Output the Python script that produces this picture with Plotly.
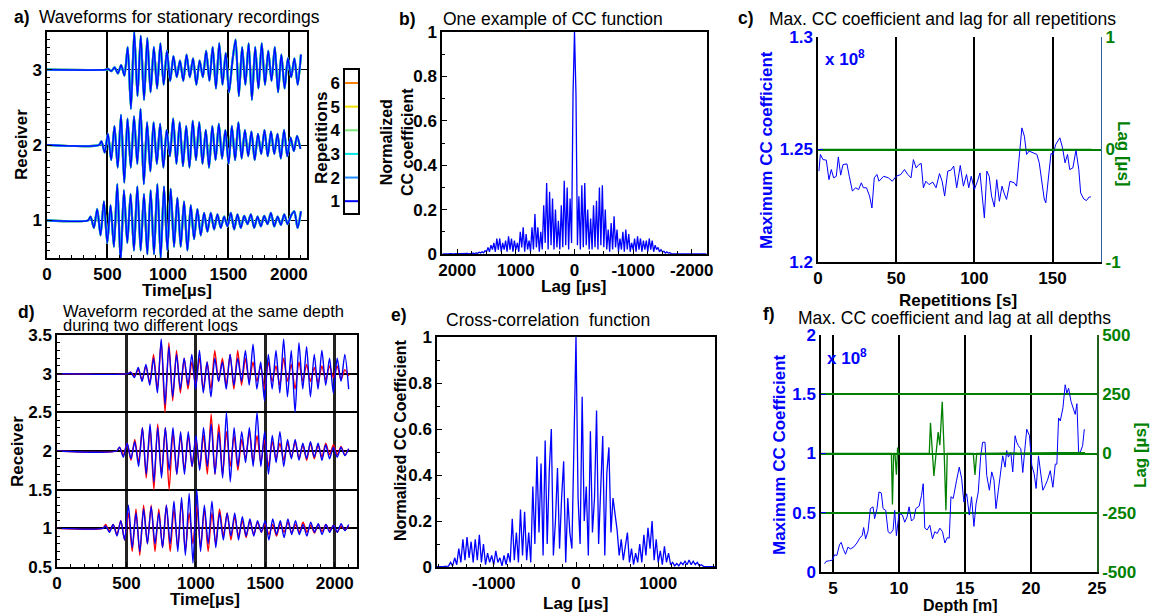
import numpy as np
import plotly.graph_objects as go

# ---------------- DATA ----------------
# Panel a: stationary recordings (amplitude of successive half-cycles after onset)
a_receivers = [1, 2, 3]
a_onset_us = [360, 450, 505]
a_end_us = [2100, 2095, 2100]
a_r1 = [0.05, -0.1, 0.15, -0.2, 0.25, -0.3, 0.2, -0.35,
        0.48, -0.55, 0.4, -0.3, 0.35, -0.4, 0.45, -0.4, 0.35, -0.45, 0.4, -0.45, 0.48, -0.5, 0.45, -0.4, 0.42, -0.35,
        0.3, -0.35, 0.25, -0.4, 0.2, -0.25, 0.15, -0.2, 0.1,
        -0.15, 0.1, -0.12, 0.08, -0.1, 0.05, -0.08, 0.1, -0.12, 0.08, -0.1, 0.06, -0.05, 0.08, -0.1, 0.05, -0.08,
        0.06, -0.05, 0.1, -0.08, 0.05, -0.06, 0.08, -0.05, 0.06, 0.12, -0.1, 0.12]
a_r2 = [0.05, -0.1, 0.15, -0.2, 0.25, -0.3,
        0.4, -0.5, 0.35, -0.3, 0.38, -0.25, 0.48, -0.52, 0.3, -0.35,
        0.3, -0.25, 0.28, -0.3, 0.2, -0.15,
        0.35, -0.25, 0.3, -0.28, 0.25, -0.3, 0.32, -0.2, 0.3, -0.25, 0.2, -0.3, 0.25, -0.2, 0.28, -0.18, 0.2, -0.25,
        0.25, -0.2, 0.3, -0.18, 0.2, -0.15, 0.18, -0.2, 0.15, -0.12, 0.2, -0.15, 0.18, -0.12, 0.15, -0.18, 0.2, -0.15,
        0.1, -0.08, 0.12, -0.05]
a_r3 = [0.01, -0.02, 0.03, -0.05, 0.06, -0.08,
        0.3, -0.52, 0.5, -0.35, 0.45, -0.4, 0.42, -0.3,
        0.3, -0.25, 0.35, -0.2, 0.25, -0.15,
        0.18, -0.1, 0.12, -0.15, 0.2, -0.1, 0.15, -0.2, 0.12, -0.1, 0.25,
        -0.15, 0.3, -0.25, 0.35, -0.2, 0.22, -0.3, 0.1,
        0.4, -0.35, 0.3, -0.2, 0.35, -0.4, 0.3, -0.25, 0.35, -0.2, 0.25,
        -0.15, 0.3, -0.3, 0.2, -0.25, 0.15, -0.1, 0.15, -0.2, 0.2]
a_traces = [a_r1, a_r2, a_r3]
rep_labels = [1, 2, 3, 4, 5, 6]
rep_colors = ["#0000FF", "#1E8CFF", "#00E5E5", "#7CE67C", "#F0E000", "#FF7F00"]

# Panel b: one example of CC function (lag grid step 25 us)
b_step_us = 25
b_pos = [1.0, 0.72, 0.05, 0.25, 0.02, 0.3, 0.04, 0.33, 0.03, 0.22,
         0.02, 0.15, 0.03, 0.2, 0.02, 0.25, 0.04, 0.28, 0.02, 0.32,
         0.05, 0.22, 0.02, 0.1, 0.01, 0.12, 0.03, 0.18, 0.02, 0.12,
         0.01, 0.06, 0.02, 0.09, 0.01, 0.12, 0.03, 0.1, 0.01, 0.05,
         0.02, 0.06, 0.01, 0.07, 0.02, 0.08, 0.01, 0.06, 0.02, 0.05,
         0.01, 0.07, 0.02, 0.07, 0.01, 0.05, 0.02, 0.04, 0.01, 0.03,
         0.01, 0.015, 0.005, 0.01, 0.005, 0.008, 0.003, 0.005, 0.002, 0.004,
         0.002, 0.003, 0.001, 0.003, 0.002, 0.003, 0.001, 0.002, 0.002, 0.003,
         0.001, 0.002, 0.001, 0.002, 0.001, 0.002, 0.001, 0.002, 0.001, 0.001, 0.001]
b_neg = [0.72, 0.04, 0.26, 0.02, 0.31, 0.03, 0.32, 0.04, 0.2, 0.02,
         0.16, 0.02, 0.22, 0.03, 0.24, 0.02, 0.3, 0.04, 0.31, 0.03,
         0.2, 0.02, 0.11, 0.01, 0.14, 0.02, 0.17, 0.03, 0.11, 0.01,
         0.07, 0.02, 0.1, 0.01, 0.11, 0.02, 0.09, 0.01, 0.05, 0.02,
         0.07, 0.01, 0.08, 0.02, 0.07, 0.01, 0.06, 0.02, 0.06, 0.01,
         0.07, 0.02, 0.06, 0.01, 0.04, 0.02, 0.03, 0.01, 0.02, 0.01,
         0.012, 0.004, 0.01, 0.004, 0.006, 0.002, 0.004, 0.002, 0.003, 0.002,
         0.003, 0.001, 0.002, 0.002, 0.003, 0.001, 0.002, 0.001, 0.002, 0.001,
         0.002, 0.001, 0.002, 0.001, 0.002, 0.001, 0.001, 0.001, 0.001, 0.001]
b_ticks = [2000, 1000, 0, -1000, -2000]
b_ticktext = ["2000", "1000", "0", "-1000", "-2000"]

# Panel c: max CC coefficient (x1e8) and lag for all repetitions
c_reps = [0.6, 1.5, 3.2, 5.3, 7, 8.5, 10, 11.7, 13, 14.5, 16, 18.5, 20, 22, 24, 26, 27.7, 29, 31, 33, 34.5, 36,
          37.7, 39, 42, 45, 47.5, 50, 53, 55.3, 57.4, 59.5, 61, 62.8, 64.5, 66, 67.4, 69, 71, 73.4, 75.5, 77.7,
          79.4, 81, 83, 85, 86.8, 88.7, 91, 93, 95, 96.4, 98, 100, 102, 103.6, 106.4, 108, 109.5, 111, 112.8,
          114.3, 116, 117.7, 119, 120.6, 122.8, 125.5, 127, 128.7, 130.4, 132, 133.4, 135, 137.7, 140, 141.5,
          143.2, 144.7, 145.7, 147.4, 149, 150.4, 152, 154.7, 156.4, 158, 159.6, 161, 163, 165, 166.8, 168,
          170, 171.7, 173.4, 174.5]
c_maxcc = [1.2404, 1.2478, 1.2455, 1.2453, 1.2366, 1.2411, 1.2374, 1.2381, 1.2467, 1.2386, 1.2433, 1.2436,
           1.2381, 1.2315, 1.233, 1.2322, 1.2352, 1.233, 1.233, 1.2293, 1.224, 1.2374, 1.2389, 1.2359, 1.2381,
           1.2374, 1.2359, 1.2381, 1.2389, 1.2411, 1.2389, 1.2374, 1.2455, 1.2418, 1.2433, 1.2438, 1.233,
           1.2359, 1.2344, 1.2355, 1.233, 1.2393, 1.2359, 1.2293, 1.2404, 1.2408, 1.2426, 1.233, 1.2429,
           1.2337, 1.2389, 1.233, 1.2381, 1.2322, 1.2359, 1.2396, 1.2196, 1.2404, 1.2381, 1.2293, 1.2245,
           1.2366, 1.227, 1.2337, 1.2307, 1.2278, 1.2359, 1.2352, 1.2337, 1.2455, 1.2596, 1.2559, 1.2478,
           1.2493, 1.2485, 1.2478, 1.2441, 1.2366, 1.228, 1.2263, 1.2381, 1.2482, 1.2478, 1.2522, 1.2552,
           1.2507, 1.2441, 1.2478, 1.2411, 1.2418, 1.2497, 1.2411, 1.2307, 1.228, 1.2273, 1.2289, 1.2289]
c_lag_reps = [1, 175]
c_lag_us = [0, 0]

# Panel d: same depth, two logs
d_onset_us = [350, 450, 530]
d_end_us = [2100, 2100, 2100]
d_blue = [
    [0.03, -0.05, 0.05, -0.1, 0.1, -0.15,
     0.3, -0.25, 0.2, -0.3, 0.25, -0.2, 0.28, -0.2, 0.2, -0.25, 0.3, -0.2, 0.35, -0.3, 0.4, -0.35, 0.45, -0.45,
     0.5, -0.3, 0.3, -0.2, 0.35, -0.25, 0.2, -0.15, 0.2, -0.1, 0.2, -0.15, 0.15, -0.1, 0.12, -0.1,
     0.1, -0.05, 0.1, -0.15, 0.12, -0.08, 0.1, -0.12, 0.12, -0.08, 0.1, -0.08, 0.05, -0.1, 0.08, -0.05, 0.06,
     -0.08, 0.05, -0.05, 0.04, -0.05, 0.06, -0.03, 0.05],
    [0.05, -0.08, 0.1, -0.1, 0.12, -0.2, 0.3, -0.3,
     0.35, -0.4, 0.3, -0.35, 0.3, -0.25, 0.3, -0.3, 0.25, -0.3, 0.25, -0.2, 0.2, -0.25,
     0.3, -0.2, 0.35, -0.3, 0.25, -0.35, 0.5, -0.4, 0.3, -0.2, 0.25, -0.15, 0.3, -0.2, 0.5, -0.2,
     0.25, -0.3, 0.2, -0.15, 0.25, -0.2, 0.15, -0.1, 0.15, -0.12, 0.1, -0.1, 0.12, -0.08, 0.1, -0.12, 0.08,
     -0.1, 0.05, -0.08, 0.05, -0.06, 0.03],
    [0.02, -0.05, 0.08, -0.1, 0.12, -0.15, 0.2, -0.25,
     0.45, -0.4, 0.35, -0.3, 0.25, -0.2, 0.2, -0.15, 0.25, -0.2, 0.3, -0.25, 0.15, -0.3,
     0.2, -0.1, 0.15, -0.2, 0.25, -0.15, 0.2, -0.1, 0.3, -0.15, 0.38, -0.2, 0.15, -0.35,
     0.25, -0.2, 0.3, -0.25, 0.45, -0.3, 0.3, -0.5, 0.4, -0.2, 0.35, -0.3, 0.25, -0.2, 0.3, -0.15, 0.2, -0.25,
     0.2, -0.1, 0.25, -0.2]]
d_red = [
    [0.05, -0.03, 0.05, -0.08, 0.1, -0.15,
     0.2, -0.3, 0.25, -0.35, 0.3, -0.2, 0.3, -0.3, 0.25, -0.25, 0.3, -0.3, 0.25, -0.25, 0.35, -0.3, 0.2, -0.2,
     0.3, -0.25, 0.25, -0.3, 0.2, -0.2, 0.25, -0.1, 0.2, -0.15, 0.15, -0.1, 0.1, -0.12, 0.1, -0.08,
     0.08, -0.05, 0.06, -0.08, 0.05, -0.1, 0.06, -0.05, 0.08, -0.06, 0.05, -0.05, 0.08, -0.05, 0.04, -0.06,
     0.05, -0.04, 0.05, -0.03, 0.04, -0.05, 0.03, -0.02, 0.03],
    [0.05, -0.05, 0.1, -0.12, 0.15, -0.15, 0.3, -0.35,
     0.3, -0.5, 0.35, -0.3, 0.3, -0.5, 0.25, -0.3, 0.2, -0.25, 0.2, -0.2, 0.15, -0.2,
     0.2, -0.3, 0.48, -0.3, 0.35, -0.3, 0.25, -0.2, 0.2, -0.25, 0.15, -0.1, 0.25, -0.15, 0.2, -0.15,
     0.15, -0.2, 0.12, -0.1, 0.1, -0.12, 0.1, -0.08, 0.12, -0.1, 0.08, -0.12, 0.1, -0.1, 0.08, -0.08, 0.1,
     -0.05, 0.08, -0.05, 0.06, -0.05, 0.03],
    [0.02, -0.03, 0.05, -0.08, 0.1, -0.12, 0.25, -0.2,
     0.42, -0.5, 0.4, -0.35, 0.3, -0.25, 0.2, -0.2, 0.15, -0.15, 0.2, -0.2, 0.15, -0.2,
     0.3, -0.1, 0.2, -0.15, 0.25, -0.2, 0.3, -0.15, 0.2, -0.1, 0.15, -0.1, 0.1, -0.2,
     0.15, -0.1, 0.1, -0.15, 0.2, -0.1, 0.12, -0.2, 0.15, -0.1, 0.12, -0.1, 0.08, -0.12, 0.1, -0.08, 0.1,
     -0.05, 0.1, -0.08, 0.05, -0.03]]

# Panel e: cross-correlation function (lag grid step 25 us)
e_step_us = 25
e_neg = [0.002, 0.001, 0.002, 0.001, 0.003, 0.002, 0.004,
         0.02, 0.005, 0.04, 0.01, 0.08, 0.02, 0.12, 0.03, 0.13, 0.04,
         0.11, 0.02, 0.12, 0.03, 0.14, 0.02, 0.1, 0.01, 0.06, 0.02,
         0.05, 0.01, 0.07, 0.02, 0.04, 0.005, 0.05, 0.01, 0.06, 0.02,
         0.21, 0.03, 0.15, 0.02, 0.25, 0.05, 0.24, 0.03, 0.15, 0.02,
         0.35, 0.1, 0.48, 0.15, 0.45, 0.05, 0.55, 0.1, 0.42, 0.6,
         0.05, 0.2, 0.43, 0.08, 0.3, 0.46, 0.02, 0.3, 0.15, 0.08, 0.53]
e_pos = [1.0, 0.3, 0.1, 0.74, 0.2, 0.35, 0.05, 0.59, 0.15, 0.3,
         0.68, 0.1, 0.35, 0.57, 0.05, 0.41, 0.52, 0.15, 0.3, 0.22,
         0.16, 0.05, 0.12, 0.03, 0.1, 0.15, 0.02, 0.08, 0.01, 0.06,
         0.02, 0.1, 0.02, 0.14, 0.05, 0.17, 0.08, 0.2, 0.03, 0.12,
         0.02, 0.07, 0.01, 0.09, 0.02, 0.06, 0.01, 0.02, 0.005, 0.015,
         0.005, 0.02, 0.01, 0.025, 0.01, 0.03, 0.01, 0.025, 0.01, 0.02,
         0.005, 0.01, 0.003, 0.002, 0.003, 0.002, 0.002, 0.001, 0.002]
e_ticks = [-1000, 0, 1000]
e_ticktext = ["-1000", "0", "1000"]

# Panel f: max CC coefficient (x1e8) and lag at all depths
f_depth = [4.37, 4.49, 4.75, 4.95, 5.13, 5.3, 5.5, 5.63, 5.8, 5.96, 6.14, 6.32, 6.57, 6.82, 7.03, 7.23, 7.33,
           7.48, 7.66, 7.84, 8.04, 8.16, 8.34, 8.49, 8.67, 8.8, 9.0, 9.18, 9.35, 9.56, 9.68, 9.81, 10.01,
           10.27, 10.44, 10.62, 10.77, 10.95, 11.13, 11.28, 11.53, 11.71, 11.84, 11.96, 12.14, 12.34, 12.54,
           12.72, 12.9, 13.1, 13.3, 13.48, 13.66, 13.81, 13.94, 14.11, 14.37, 14.57, 14.75, 14.92, 15.13,
           15.33, 15.5, 15.68, 15.84, 16.01, 16.19, 16.34, 16.52, 16.65, 16.85, 17.03, 17.2, 17.35, 17.53,
           17.71, 17.86, 18.04, 18.16, 18.29, 18.47, 18.62, 18.8, 18.92, 19.05, 19.23, 19.38, 19.56, 19.68,
           19.89, 20.06, 20.24, 20.39, 20.57, 20.75, 20.9, 21.08, 21.25, 21.46, 21.66, 21.84, 21.96, 22.09,
           22.22, 22.42, 22.59, 22.72, 22.85, 23.03, 23.23, 23.35, 23.48, 23.61, 23.73, 23.91, 24.04]
f_maxcc = [0.07, 0.09, 0.095, 0.10, 0.145, 0.14, 0.23, 0.25, 0.19, 0.15, 0.21, 0.195, 0.21, 0.245, 0.285,
           0.31, 0.375, 0.28, 0.345, 0.535, 0.55, 0.45, 0.535, 0.675, 0.667, 0.535, 0.52, 0.34, 0.325, 0.355,
           0.52, 0.307, 0.495, 0.48, 0.42, 0.465, 0.55, 0.43, 0.45, 0.535, 0.555, 0.645, 0.745, 0.37, 0.355,
           0.395, 0.28, 0.34, 0.325, 0.37, 0.34, 0.245, 0.29, 0.285, 0.635, 0.62, 0.775, 0.885, 0.79, 0.59,
           0.66, 0.48, 0.635, 0.385, 0.575, 0.675, 0.975, 1.095, 1.095, 0.815, 0.69, 0.845, 0.775, 0.535,
           0.69, 0.845, 0.98, 0.885, 1.025, 0.97, 1.01, 0.845, 1.15, 1.095, 1.065, 1.04, 0.84, 1.065, 1.205,
           1.15, 0.9, 0.83, 0.705, 0.98, 0.815, 0.69, 0.73, 0.775, 0.855, 0.715, 0.91, 0.91, 1.3, 1.275,
           1.385, 1.58, 1.51, 1.55, 1.44, 1.37, 1.33, 1.42, 1.01, 1.01, 1.065, 1.205]
f_lag_depth = [4.1, 9.43, 9.51, 9.6, 9.7, 9.81, 9.9, 9.98, 12.3, 12.39, 12.65, 12.8, 12.97, 13.1, 13.28,
               13.43, 13.56, 13.66, 15.63, 15.76, 15.89, 22.0, 24.1]
f_lag_us = [0, 0, -215, 0, 0, -90, 25, 0, 0, 130, -95, 0, 90, 35, 218, 0, -240, 0, 0, -90, 0, 4, 4]
f_lag_ticks = [-500, -250, 0, 250, 500]
f_lag_ticktext = ["-500", "-250", "0", "250", "500"]

# ---------------- LAYOUT HELPERS ----------------
W, H = 1156, 613
FONT = "Liberation Sans, Arial, sans-serif"
BLUE = "#0000FF"
GREEN = "#008000"
TICK = 17
TITLE = 17.5


def xd(p0, p1):
    return [p0 / W, p1 / W]


def yd(top, bottom):
    return [1 - bottom / H, 1 - top / H]


def tf(color="black", size=TICK):
    return dict(family=FONT, size=size, color=color, weight="bold")


def axis(domain, rng, **kw):
    base = dict(domain=domain, range=rng, showline=True, linecolor="black", linewidth=1.5, mirror=True,
                ticks="inside", ticklen=5, tickwidth=1.2, tickcolor="black", showgrid=False,
                zeroline=False, tickfont=tf(), automargin=False, layer="above traces")
    base.update(kw)
    return base


def minor(dt):
    return dict(ticks="inside", ticklen=3, tickwidth=1, tickcolor="black", dtick=dt, showgrid=False)


fig = go.Figure()

# ---- panel a ----
for r, amp, t0, t1 in zip(a_receivers, a_traces, a_onset_us, a_end_us):
    t = np.concatenate([[0, t0 - 20], np.linspace(t0, t1, len(amp))])
    y = r + np.concatenate([[0, 0], amp])
    for k in range(len(rep_labels) - 1, -1, -1):
        fig.add_trace(go.Scatter(x=t, y=y, mode="lines", line=dict(color=rep_colors[k],
                                 width=1.3 if k == 0 else 2.1, shape="spline", smoothing=0.7),
                                 xaxis="x", yaxis="y", hoverinfo="skip"))

# ---- colour key for repetitions ----
for lab, col in zip(rep_labels, rep_colors):
    fig.add_trace(go.Scatter(x=[0, 1], y=[lab, lab], mode="lines", line=dict(color=col, width=2),
                             xaxis="x2", yaxis="y2", hoverinfo="skip"))

# ---- panel b ----
b_lag = np.concatenate([np.arange(-b_step_us * len(b_neg), 0, b_step_us),
                        np.arange(0, b_step_us * len(b_pos), b_step_us)])
b_val = np.concatenate([b_neg[::-1], b_pos])
fig.add_trace(go.Scatter(x=b_lag, y=b_val, mode="lines", line=dict(color=BLUE, width=1.3),
                         xaxis="x3", yaxis="y3", hoverinfo="skip"))

# ---- panel c ----
fig.add_trace(go.Scatter(x=c_reps, y=c_maxcc, mode="lines", line=dict(color=BLUE, width=1),
                         xaxis="x4", yaxis="y4", hoverinfo="skip"))
fig.add_trace(go.Scatter(x=c_lag_reps, y=c_lag_us, mode="lines", line=dict(color=GREEN, width=1.5),
                         xaxis="x4", yaxis="y5", hoverinfo="skip"))

# ---- panel d ----
for r, ampb, ampr, t0, t1 in zip(a_receivers, d_blue, d_red, d_onset_us, d_end_us):
    for amp, col in ((ampr, "#FF0000"), (ampb, BLUE)):
        t = np.concatenate([[0, t0 - 20], np.linspace(t0, t1, len(amp))])
        y = r + np.concatenate([[0, 0], amp])
        fig.add_trace(go.Scatter(x=t, y=y, mode="lines", line=dict(color=col, width=1.4, shape="spline",
                                 smoothing=0.7), xaxis="x6", yaxis="y6", hoverinfo="skip"))

# ---- panel e ----
e_lag = np.concatenate([np.arange(-e_step_us * len(e_neg), 0, e_step_us),
                        np.arange(0, e_step_us * len(e_pos), e_step_us)])
e_val = np.concatenate([e_neg, e_pos])
fig.add_trace(go.Scatter(x=e_lag, y=e_val, mode="lines", line=dict(color=BLUE, width=1.3),
                         xaxis="x7", yaxis="y7", hoverinfo="skip"))

# ---- panel f ----
fig.add_trace(go.Scatter(x=f_depth, y=f_maxcc, mode="lines", line=dict(color=BLUE, width=1),
                         xaxis="x8", yaxis="y8", hoverinfo="skip"))
fig.add_trace(go.Scatter(x=f_lag_depth, y=f_lag_us, mode="lines", line=dict(color=GREEN, width=1.3),
                         xaxis="x8", yaxis="y9", hoverinfo="skip"))

layout = dict(
    width=W, height=H, margin=dict(l=0, r=0, t=0, b=0), showlegend=False,
    paper_bgcolor="white", plot_bgcolor="white",
    # a
    xaxis=axis(xd(47, 307), [0, 2150], anchor="y", tickvals=[0, 500, 1000, 1500, 2000], showgrid=True,
               gridcolor="black", gridwidth=2, minor=minor(100)),
    yaxis=axis(yd(32, 258), [0.5, 3.5], anchor="x", tickvals=[1, 2, 3], showgrid=True,
               gridcolor="black", gridwidth=1.2, minor=minor(0.1)),
    # colour key
    xaxis2=axis(xd(345, 358), [0, 1], anchor="y2", showticklabels=False, ticks=""),
    yaxis2=axis(yd(70, 213), [0.5, 6.55], anchor="x2", tickvals=rep_labels, ticks=""),
    # b
    xaxis3=axis(xd(442, 707), [2260, -2260], anchor="y3", tickvals=b_ticks, ticktext=b_ticktext,
                minor=minor(250)),
    yaxis3=axis(yd(32, 254), [0, 1], anchor="x3", tickvals=[0, 0.2, 0.4, 0.6, 0.8, 1],
                ticktext=["0", "0.2", "0.4", "0.6", "0.8", "1"], minor=minor(0.1)),
    # c
    xaxis4=axis(xd(818, 1101), [0, 181], anchor="y4", tickvals=[0, 50, 100, 150], showgrid=True,
                gridcolor="black", gridwidth=1.5, mirror=False),
    yaxis4=axis(yd(37, 262), [1.2, 1.3], anchor="x4", tickvals=[1.2, 1.25, 1.3], tickcolor=BLUE,
                tickfont=tf(BLUE), mirror=False),
    yaxis5=dict(overlaying="y4", side="right", anchor="x4", range=[-1, 1], tickvals=[-1, 0, 1],
                ticktext=["-1", "0", "1"], tickfont=tf(GREEN), showgrid=True, gridcolor=GREEN,
                gridwidth=1.5, showline=True, linecolor="#3060A0", linewidth=1.2, ticks="inside",
                tickcolor=GREEN, ticklen=5, zeroline=False, automargin=False),
    # d
    xaxis6=axis(xd(57, 357), [0, 2160], anchor="y6", tickvals=[0, 500, 1000, 1500, 2000], showgrid=True,
                gridcolor="#222222", gridwidth=2.5, minor=minor(100)),
    yaxis6=axis(yd(335, 567), [0.5, 3.5], anchor="x6", tickvals=[0.5, 1, 1.5, 2, 2.5, 3, 3.5],
                ticktext=["0.5", "1", "1.5", "2", "2.5", "3", "3.5"], showgrid=True, gridcolor="black",
                gridwidth=1.5, minor=minor(0.1)),
    # e
    xaxis7=axis(xd(437, 715), [-1690, 1690], anchor="y7", tickvals=e_ticks, ticktext=e_ticktext,
                minor=minor(166.667)),
    yaxis7=axis(yd(337, 567), [0, 1], anchor="x7", tickvals=[0, 0.2, 0.4, 0.6, 0.8, 1],
                ticktext=["0", "0.2", "0.4", "0.6", "0.8", "1"], minor=minor(0.1)),
    # f
    xaxis8=axis(xd(821, 1097), [4.1, 25], anchor="y8", tickvals=[5, 10, 15, 20, 25], showgrid=True,
                gridcolor="black", gridwidth=2, mirror=False),
    yaxis8=axis(yd(335, 572), [0, 2], anchor="x8", tickvals=[0, 0.5, 1, 1.5, 2],
                ticktext=["0", "0.5", "1", "1.5", "2"], tickcolor=BLUE, tickfont=tf(BLUE), mirror=False),
    yaxis9=dict(overlaying="y8", side="right", anchor="x8", range=[-500, 500], tickvals=f_lag_ticks,
                ticktext=f_lag_ticktext, tickfont=tf(GREEN), showgrid=True, gridcolor=GREEN, gridwidth=1.5,
                showline=True, linecolor="#1F5F1F", linewidth=1.5, ticks="inside", tickcolor=GREEN,
                ticklen=5, zeroline=False, automargin=False),
)
fig.update_layout(**layout)

anns = []


def ann(text, x, y, size=16, color="black", bold=False, angle=0, xanchor="center", yanchor="middle",
        height=None):
    d = dict(text=text, x=x / W, y=1 - y / H, xref="paper", yref="paper", showarrow=False,
             xanchor=xanchor, yanchor=yanchor, textangle=angle,
             font=dict(family=FONT, size=size, color=color, weight="bold" if bold else "normal"))
    if height:
        d["height"] = height
    anns.append(d)


# panel labels & titles
ann("a)", 12, 17, size=TITLE, bold=True, xanchor="left")
ann("Waveforms for stationary recordings", 37, 17, size=TITLE, xanchor="left")
ann("b)", 397, 19, size=TITLE, bold=True, xanchor="left")
ann("One example of CC function", 441, 19, size=TITLE, xanchor="left")
ann("c)", 736, 18, size=TITLE, bold=True, xanchor="left")
ann("Max. CC coefficient and lag for all repetitions", 767, 19, size=TITLE, xanchor="left")
ann("d)", 16, 312, size=TITLE, bold=True, xanchor="left")
ann("Waveform recorded at the same depth", 61, 311, size=16.5, xanchor="left", height=14)
ann("during two different logs", 61, 325, size=16.5, xanchor="left", height=14)
ann("e)", 389, 315, size=TITLE, bold=True, xanchor="left")
ann("Cross-correlation  function", 444, 320, size=TITLE, xanchor="left")
ann("f)", 761, 314, size=TITLE, bold=True, xanchor="left")
ann("Max. CC coefficient and lag at all depths", 796, 318, size=TITLE, xanchor="left")

# axis titles
ann("Receiver", 22, 145, size=17, bold=True, angle=-90)
ann("Time[µs]", 177, 290, size=17, bold=True)
ann("Repetitions", 322, 138, size=17, bold=True, angle=-90)
ann("Normalized<br>CC coefficient", 397, 142, size=16, bold=True, angle=-90)
ann("Lag [µs]", 574, 287, size=17, bold=True)
ann("Maximum CC coefficient", 766, 150, size=17, bold=True, angle=-90, color=BLUE)
ann("Lag [µs]", 1124, 154, size=17, bold=True, angle=90, color=GREEN)
ann("Repetitions [s]", 958, 300, size=17, bold=True)
ann("x 10<sup>8</sup>", 823, 58, size=17, bold=True, color=BLUE, xanchor="left")
ann("Receiver", 17, 452, size=17, bold=True, angle=-90)
ann("Time[µs]", 205, 599, size=17, bold=True)
ann("Normalized CC Coefficient", 400, 440, size=16, bold=True, angle=-90)
ann("Lag [µs]", 576, 603, size=17, bold=True)
ann("Maximum CC Coefficient", 780, 455, size=17, bold=True, angle=-90, color=BLUE)
ann("Lag [µs]", 1141, 455, size=17, bold=True, angle=-90, color=GREEN)
ann("Depth [m]", 960, 605, size=16, bold=True)
ann("x 10<sup>8</sup>", 825, 357, size=17, bold=True, color=BLUE, xanchor="left")

fig.update_layout(annotations=anns)
fig.write_html("out.html", config={"displayModeBar": False},
               post_script="document.body.style.margin='0';document.body.style.overflow='hidden';")
